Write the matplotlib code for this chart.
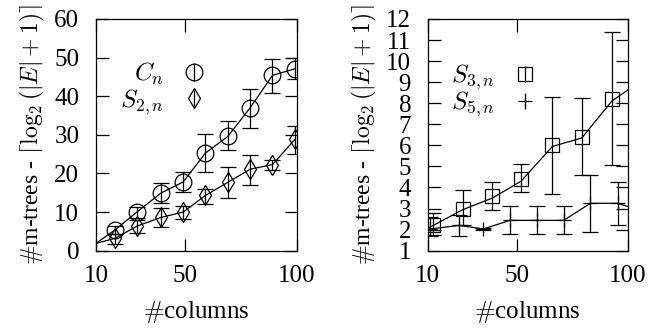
import numpy as np
import matplotlib.pyplot as plt
from matplotlib.lines import Line2D

plt.rcParams['font.family'] = ['Liberation Serif', 'DejaVu Serif']
plt.rcParams['mathtext.fontset'] = 'cm'

# venstre panel: C_n og S_2,n
cn_x = [18.5, 28.5, 39, 49, 59, 69, 79, 89, 99]
cn_y = [5.4, 10.1, 14.9, 17.8, 25.3, 29.6, 37.0, 45.4, 47.1]
cn_lav = [4.4, 8.4, 12.3, 15.3, 20.5, 26.0, 31.8, 40.9, 44.5]
cn_hoy = [6.4, 11.3, 17.5, 20.3, 30.1, 33.5, 41.9, 49.6, 50.0]

s2_x = cn_x
s2_y = [3.2, 6.4, 8.6, 10.0, 14.3, 17.7, 21.1, 22.3, 28.8]
s2_lav = [1.7, 4.5, 6.2, 8.2, 12.1, 13.6, 17.1, 20.8, 25.0]
s2_hoy = [4.4, 8.0, 11.0, 11.7, 16.0, 21.7, 24.9, 23.6, 32.4]

cn_linje_x = [10, 18.5, 28.5, 39, 49, 59, 69, 79, 89, 99]
cn_linje_y = [1.9, 5.4, 10.1, 14.9, 17.8, 25.3, 29.6, 37.0, 45.4, 47.1]
s2_linje_x = [10, 18.5, 28.5, 39, 49, 59, 69, 79, 89, 99]
s2_linje_y = [1.9, 3.2, 6.4, 8.6, 10.0, 14.3, 17.7, 21.1, 22.3, 28.8]

# høyre panel: S_3,n og S_5,n
s3_x = [12.5, 25.8, 39.1, 52.0, 66.1, 79.3, 92.8]
s3_y = [2.24, 3.0, 3.62, 4.42, 6.0, 6.42, 8.2]
s3_lav = [1.75, 2.2, 2.94, 3.8, 3.7, 4.58, 5.05]
s3_hoy = [2.78, 3.88, 4.27, 5.1, 8.3, 8.25, 11.4]

s5_x = [11.0, 24.2, 35.0, 47.0, 59.2, 71.2, 83.2, 95.4]
s5_y = [2.03, 2.2, 2.03, 2.44, 2.44, 2.44, 3.25, 3.25]
s5_lav = [1.7, 1.7, 1.98, 1.77, 1.77, 1.77, 1.88, 2.2]
s5_hoy = [2.6, 2.7, 2.08, 3.1, 3.1, 3.1, 4.58, 4.27]

s3_linje_x = [10, 12.5, 25.8, 39.1, 52.0, 66.1, 79.3, 92.8, 100]
s3_linje_y = [2.05, 2.2, 2.95, 3.5, 4.3, 5.95, 6.35, 8.1, 8.63]
s5_linje_x = [10, 11.0, 24.2, 35.0, 47.0, 59.2, 71.2, 83.2, 95.4, 100]
s5_linje_y = [2.0, 2.03, 2.2, 2.03, 2.44, 2.44, 2.44, 3.25, 3.25, 3.1]

ylabel = r'$\#$m-trees - $\lceil\log_2(|E|+1)\rceil$'

fig = plt.figure(figsize=(6.65, 3.28), dpi=100)
ax1 = fig.add_axes([0.1444, 0.2357, 0.3023, 0.7064])
ax2 = fig.add_axes([0.6432, 0.2357, 0.3008, 0.7064])


def tegn(ax, x, y, lav, hoy, lx, ly, marker, ms):
    y = np.array(y)
    feil = [y - np.array(lav), np.array(hoy) - y]
    ax.errorbar(x, y, yerr=feil, fmt='none', ecolor='k', elinewidth=0.9,
                capsize=5.5, capthick=0.9)
    ax.plot(lx, ly, color='k', lw=0.9)
    ax.plot(x, y, ls='none', marker=marker, ms=ms, mfc='none', mec='k', mew=0.9)
    return (Line2D([], [], ls='none', marker=marker, ms=ms, mfc='none', mec='k', mew=0.9),
            Line2D([], [], ls='none', marker='|', ms=ms + 1, mec='k', mew=0.9))


h1 = tegn(ax1, cn_x, cn_y, cn_lav, cn_hoy, cn_linje_x, cn_linje_y, 'o', 12)
h2 = tegn(ax1, s2_x, s2_y, s2_lav, s2_hoy, s2_linje_x, s2_linje_y, 'd', 10)
h3 = tegn(ax2, s3_x, s3_y, s3_lav, s3_hoy, s3_linje_x, s3_linje_y, 's', 10)
h4 = tegn(ax2, s5_x, s5_y, s5_lav, s5_hoy, s5_linje_x, s5_linje_y, '+', 10)

ax1.set_ylim(0, 60)
ax1.set_yticks(range(0, 61, 10))
ax2.set_ylim(1, 12)
ax2.set_yticks(range(1, 13))

for ax in (ax1, ax2):
    ax.set_xlim(10, 100)
    ax.set_xticks([10, 50, 100])
    ax.tick_params(direction='in', length=9, width=0.9, top=True, right=True,
                   labelsize=18, pad=10)
    ax.tick_params(axis='y', pad=12)
    for s in ax.spines.values():
        s.set_linewidth(0.9)
    ax.set_xlabel(r'$\#$columns', fontsize=18, labelpad=9)
    ax.set_ylabel(ylabel, fontsize=17, labelpad=5)

ax1.legend([h1, h2], [r'$C_n$', r'$S_{2,n}$'], markerfirst=False, frameon=False,
           loc='center right', bbox_to_anchor=(0.55, 0.70), fontsize=18,
           handlelength=1.0, handletextpad=0.7, labelspacing=0.0,
           borderpad=0, borderaxespad=0)
ax2.legend([h3, h4], [r'$S_{3,n}$', r'$S_{5,n}$'], markerfirst=False, frameon=False,
           loc='center right', bbox_to_anchor=(0.55, 0.69), fontsize=18,
           handlelength=1.0, handletextpad=0.7, labelspacing=-0.1,
           borderpad=0, borderaxespad=0)

fig.savefig('out.png', dpi=100)
